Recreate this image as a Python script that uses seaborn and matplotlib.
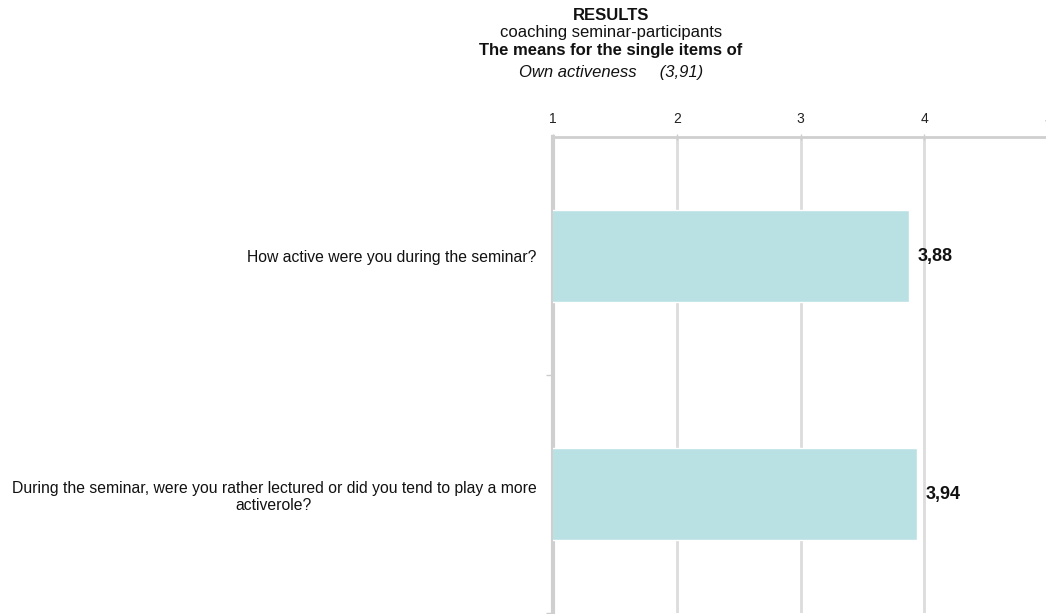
import matplotlib
matplotlib.use("Agg")
import matplotlib.pyplot as plt
import seaborn as sns
import pandas as pd

categories = ["How active were you during the seminar?",
              "During the seminar, were you rather lectured or did you tend to play a more\nactiverole?"]
values = [3.88, 3.94]
value_labels = ["3,88", "3,94"]
x_ticks = [1, 2, 3, 4, 5]
title_lines = ["RESULTS", "coaching seminar-participants",
               "The means for the single items of", "Own activeness     (3,91)"]

sns.set_theme(style="white")
plt.rcParams['font.family'] = ['Liberation Sans', 'DejaVu Sans']

fig = plt.figure(figsize=(10.46, 6.14), dpi=100)
ax = fig.add_axes([553/1046, 1-613/614, (1048-553)/1046, (613-137)/614])

df = pd.DataFrame({"cat": categories, "val": values})
sns.barplot(data=df, y="cat", x="val", orient="h", color="#b9e1e4",
            width=0.39, ax=ax, saturation=1, zorder=3)

ax.set_xlim(1, 5)
ax.set_ylim(1.5, -0.5)
ax.xaxis.tick_top()
ax.set_xticks(x_ticks)
ax.set_xticklabels([str(t) for t in x_ticks], fontsize=10, color="#222222")
ax.tick_params(axis="x", which="major", length=4, width=1, color="#cccccc", pad=6, direction="inout")
ax.set_xlabel("")
ax.set_ylabel("")

# y: ticks at category boundaries, labels at centers
ax.set_yticks([0.5, 1.5])
ax.set_yticklabels([])
ax.set_yticks([0, 1], minor=True)
ax.set_yticklabels(categories, minor=True, fontsize=11.3, multialignment="center",
                   linespacing=1.2, color="#111111")
ax.tick_params(axis="y", which="minor", length=0, pad=12)
ax.tick_params(axis="y", which="major", length=5, width=1, color="#cccccc", left=True)

ax.grid(axis="x", color="#dcdcdc", linewidth=2, zorder=0)
ax.set_axisbelow(True)
for s in ["right", "bottom"]:
    ax.spines[s].set_visible(False)
ax.spines["left"].set_color("#cfcfcf")
ax.spines["left"].set_linewidth(3)
ax.spines["top"].set_color("#cfcfcf")
ax.spines["top"].set_linewidth(2)

for i, (v, lab) in enumerate(zip(values, value_labels)):
    ax.text(v + 0.07, i, lab, va="center", ha="left", fontsize=13, fontweight="bold", color="#111111")

cx = 611/1046
fig.text(cx, 1-15/614, title_lines[0], ha="center", va="center", fontsize=12, fontweight="bold", color="#111111")
fig.text(cx, 1-33/614, title_lines[1], ha="center", va="center", fontsize=12, color="#111111")
fig.text(cx, 1-51/614, title_lines[2], ha="center", va="center", fontsize=12, fontweight="bold", color="#111111")
fig.text(cx, 1-72/614, title_lines[3], ha="center", va="center", fontsize=12, style="italic", color="#111111")

fig.savefig("out.png", dpi=100)
